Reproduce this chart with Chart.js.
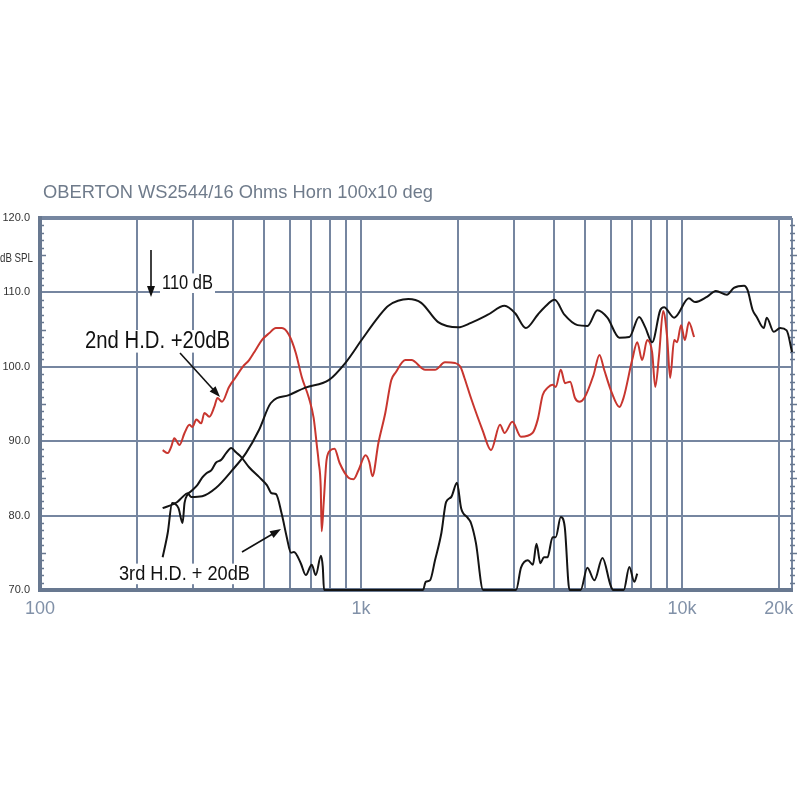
<!DOCTYPE html>
<html>
<head>
<meta charset="utf-8">
<script src="https://cdn.jsdelivr.net/npm/chart.js@4.4.0/dist/chart.umd.min.js"></script>
<style>
  html, body { margin: 0; padding: 0; background: #fff; }
  #wrap { position: relative; width: 800px; height: 800px; }
</style>
</head>
<body>
<div id="wrap"><canvas id="c" width="800" height="800"></canvas></div>
<script>
// Values (Hz / dB SPL)
const splFreq = [241, 267, 278, 288, 296, 320, 353, 397, 438, 481, 523, 596, 671, 793, 893, 1004, 1133, 1217, 1404, 1540,
  1739, 2006, 2200, 2484, 2800, 3020, 3260, 3551, 3730, 4010, 4300, 4725, 5074, 5450, 5853, 6380, 6850, 7350, 7680, 8070,
  8550, 8790, 9450, 10500, 10970, 11950, 12740, 13790, 14500, 15600, 16000, 16600, 17080, 17970, 18350, 19300, 20200, 21170, 22000];
const splDb = [81.0, 81.8, 82.5, 83.0, 82.5, 82.6, 83.7, 86.1, 88.4, 91.5, 95.1, 96.2, 97.2, 98.2, 100.5, 103.6, 106.7, 108.2, 109.1, 108.6,
  106.0, 105.3, 105.9, 107.0, 108.2, 107.2, 105.2, 107.0, 108.0, 109.0, 107.0, 105.6, 105.5, 107.6, 106.6, 103.9, 104.0, 106.7, 105.3, 103.3,
  107.6, 108.0, 106.6, 109.2, 108.7, 109.4, 110.2, 109.7, 110.6, 110.9, 110.3, 107.6, 106.7, 105.2, 106.6, 104.7, 105.2, 104.9, 102.0];

// 2nd harmonic distortion, +20 dB
const hd2Freq = [241, 250, 256, 262, 272, 282, 292, 298, 307, 318, 325, 337, 349, 357, 369, 388, 407, 428, 448, 470,
  491, 517, 543, 567, 596, 626, 654, 687, 712, 728, 738, 749, 754, 765, 781, 804, 827, 857, 914, 948,
  982, 1033, 1061, 1085, 1133, 1190, 1242, 1280, 1375, 1435, 1585, 1700, 1826, 1963, 2040, 2100, 2200, 2390, 2540, 2710,
  2800, 2960, 3150, 3420, 3551, 3680, 3814, 3950, 4040, 4190, 4320, 4480, 4640, 4790, 4960, 5300, 5530, 5720, 6030, 6380,
  6580, 6990, 7250, 7510, 7788, 8070, 8250, 8480, 8730, 8984, 9180, 9450, 9649, 9930, 10200, 10500, 10900];
const hd2Db = [88.8, 88.4, 89.2, 90.4, 89.5, 91.1, 92.2, 91.9, 92.9, 92.4, 93.8, 93.3, 94.6, 95.8, 95.3, 97.3, 98.6, 100.0, 100.9, 102.3,
  103.6, 104.5, 105.2, 105.2, 104.3, 101.9, 98.6, 95.9, 93.1, 89.5, 87.2, 83.8, 77.9, 81.7, 87.5, 88.8, 89.0, 87.1, 85.1, 84.9,
  86.1, 88.1, 87.2, 85.3, 89.8, 93.8, 98.2, 99.2, 100.9, 100.9, 99.6, 99.6, 100.6, 100.5, 100.0, 98.5, 95.8, 91.5, 88.8, 92.2,
  91.1, 92.6, 90.6, 91.1, 92.9, 96.2, 97.2, 97.6, 97.3, 99.6, 97.8, 98.0, 95.8, 95.3, 95.8, 98.9, 101.6, 99.6, 96.6, 94.6,
  95.9, 100.9, 103.3, 100.9, 103.6, 101.9, 97.3, 101.6, 107.5, 104.0, 98.5, 103.6, 103.3, 105.6, 103.6, 106.0, 104.0];

// 3rd harmonic distortion, +20 dB (sits on the 70 dB floor where it drops out)
const hd3Freq = [241, 250, 258, 270, 278, 282, 288, 298, 309, 320, 330, 342, 353, 367, 380, 394, 408, 423, 448, 481,
  509, 527, 543, 567, 587, 605, 618, 649, 673, 702, 723, 750, 760, 767, 1560, 1590, 1640, 1700, 1780, 1840,
  1910, 1990, 2050, 2150, 2200, 2280, 2400, 3040, 3150, 3310, 3430, 3520, 3620, 3710, 3810, 3950, 4040, 4190, 4310, 4460,
  4830, 5070, 5330, 5650, 5980, 6100, 6580, 6850, 7100, 7250];
const hd3Db = [74.4, 77.7, 81.7, 81.0, 79.0, 81.7, 82.8, 83.4, 84.1, 85.1, 85.7, 86.1, 87.1, 87.5, 88.4, 89.1, 88.5, 87.9, 86.5, 85.2,
  84.1, 83.0, 82.9, 80.1, 77.1, 75.0, 75.1, 73.6, 72.0, 73.4, 72.0, 74.6, 73.1, 70, 70, 71.1, 71.3, 74.0, 77.7, 81.8,
  82.5, 84.4, 81.0, 79.7, 79.0, 76.3, 70, 70, 73.0, 74.0, 73.4, 76.2, 73.6, 74.4, 74.4, 77.1, 77.1, 79.8, 78.5, 70,
  70, 73.0, 71.3, 74.3, 70.7, 70, 70, 73.1, 71.1, 72.2];

const freqTicks = [100, 200, 300, 400, 500, 600, 700, 800, 900, 1000, 2000, 3000, 4000, 5000, 6000, 7000, 8000, 9000, 10000, 20000, 22000];
const freqLabels = { 100: '100', 1000: '1k', 10000: '10k', 20000: '20k' };
const dbMin = 70, dbMax = 120;

const GRID = '#7686a0';
const FRAME = '#687890';
const NARROW = "'Liberation Sans Narrow', 'Arial Narrow', 'Liberation Sans', Arial, sans-serif";
const SANS = "'Liberation Sans', Arial, sans-serif";

const toPts = (fs, ds) => fs.map((f, i) => ({ x: f, y: ds[i] }));

// draw text squeezed to a given width (the sheet uses a condensed face)
function fitText(ctx, str, x, y, px, width, color, boxed) {
  ctx.save();
  ctx.font = px + 'px ' + SANS;
  const w = ctx.measureText(str).width;
  if (boxed) {
    ctx.fillStyle = '#fff';
    ctx.fillRect(x - 2, y - px * 0.78, width + 4, px * 0.98);
  }
  ctx.translate(x, y);
  ctx.scale(width / w, 1);
  ctx.fillStyle = color;
  ctx.textBaseline = 'alphabetic';
  ctx.fillText(str, 0, 0);
  ctx.restore();
}

function arrow(ctx, x1, y1, x2, y2) {
  const a = Math.atan2(y2 - y1, x2 - x1);
  const len = 11, half = 4;
  ctx.save();
  ctx.strokeStyle = '#111';
  ctx.fillStyle = '#111';
  ctx.lineWidth = 1.6;
  ctx.beginPath();
  ctx.moveTo(x1, y1);
  ctx.lineTo(x2 - Math.cos(a) * len * 0.8, y2 - Math.sin(a) * len * 0.8);
  ctx.stroke();
  ctx.beginPath();
  ctx.moveTo(x2, y2);
  ctx.lineTo(x2 - Math.cos(a) * len + Math.sin(a) * half, y2 - Math.sin(a) * len - Math.cos(a) * half);
  ctx.lineTo(x2 - Math.cos(a) * len - Math.sin(a) * half, y2 - Math.sin(a) * len + Math.cos(a) * half);
  ctx.closePath();
  ctx.fill();
  ctx.restore();
}

const sheetNotes = {
  id: 'sheetNotes',
  beforeDatasetsDraw(chart) {
    const ctx = chart.ctx;
    const ys = chart.scales.y;
    const area = chart.chartArea;

    // 1 dB minor ticks on both frame sides
    ctx.save();
    ctx.strokeStyle = FRAME;
    ctx.lineWidth = 1.5;
    for (let v = dbMin + 1; v < dbMax; v++) {
      if (v % 10 === 0) continue;
      const py = Math.round(ys.getPixelForValue(v)) + 0.5;
      const long = v % 5 === 0 ? 2 : 0;
      ctx.beginPath();
      ctx.moveTo(area.left, py);
      ctx.lineTo(area.left + 4 + long, py);
      ctx.moveTo(area.right - 2, py);
      ctx.lineTo(area.right + 3 + long, py);
      ctx.stroke();
    }
    ctx.restore();

    fitText(ctx, '110 dB', 162, 289, 20, 51, '#111', true);
    fitText(ctx, '2nd H.D. +20dB', 85, 348, 23, 145, '#111', true);
    fitText(ctx, '3rd H.D. + 20dB', 119, 580, 21, 131, '#111', true);
  },
  afterDraw(chart) {
    const ctx = chart.ctx;
    fitText(ctx, 'OBERTON WS2544/16 Ohms Horn 100x10 deg', 43, 198, 19, 390, '#6f7b8b', false);
    fitText(ctx, 'dB SPL', 0, 262, 12, 33, '#333', false);
    arrow(ctx, 151, 250, 151, 297);
    arrow(ctx, 180, 353, 220, 397);
    arrow(ctx, 242, 552, 281, 529);
  }
};

const lineStyle = { pointRadius: 0, borderWidth: 2, cubicInterpolationMode: 'monotone', clip: 6, fill: false };

new Chart(document.getElementById('c').getContext('2d'), {
  type: 'line',
  data: {
    datasets: [
      Object.assign({ label: 'SPL', data: toPts(splFreq, splDb), borderColor: '#141414' }, lineStyle),
      Object.assign({ label: '2nd H.D. +20dB', data: toPts(hd2Freq, hd2Db), borderColor: '#c8362f' }, lineStyle),
      Object.assign({ label: '3rd H.D. + 20dB', data: toPts(hd3Freq, hd3Db), borderColor: '#141414' }, lineStyle)
    ]
  },
  options: {
    responsive: false,
    animation: false,
    devicePixelRatio: 1,
    layout: { padding: { top: 218, right: 5, left: 0, bottom: 0 } },
    plugins: { legend: { display: false }, tooltip: { enabled: false }, title: { display: false } },
    scales: {
      x: {
        type: 'logarithmic',
        min: 100,
        max: 22000,
        afterBuildTicks: (axis) => { axis.ticks = freqTicks.map(v => ({ value: v })); },
        afterFit: (axis) => { axis.height = 210; },
        grid: { color: GRID, lineWidth: 2, drawTicks: false },
        border: { color: FRAME, width: 4 },
        ticks: {
          autoSkip: false,
          maxRotation: 0,
          padding: 8,
          color: '#8191a8',
          font: { family: NARROW, size: 18 },
          callback: (v) => freqLabels[v] || ''
        }
      },
      y: {
        min: dbMin,
        max: dbMax,
        afterFit: (axis) => { axis.width = 40; },
        grid: {
          color: GRID,
          drawTicks: false,
          lineWidth: (c) => (c.tick && c.tick.value === dbMax ? 4 : 2)
        },
        border: { color: FRAME, width: 4 },
        ticks: {
          stepSize: 10,
          padding: 10,
          color: '#333',
          font: { family: NARROW, size: 11 },
          callback: (v) => Number(v).toFixed(1)
        }
      }
    }
  },
  plugins: [sheetNotes]
});
</script>
</body>
</html>
